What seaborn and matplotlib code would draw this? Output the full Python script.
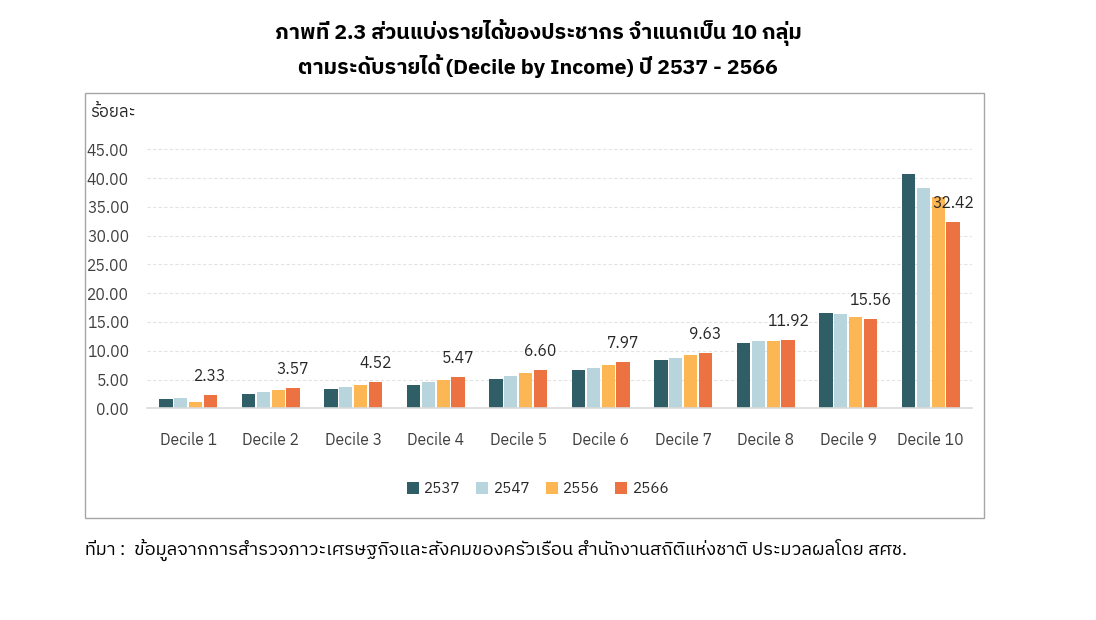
import matplotlib
matplotlib.use("Agg")
import matplotlib.pyplot as plt
import matplotlib.font_manager as fm
from matplotlib.ft2font import FT2Font
from matplotlib.patches import Rectangle
import seaborn as sns
import pandas as pd

deciles = ["Decile 1", "Decile 2", "Decile 3", "Decile 4", "Decile 5",
           "Decile 6", "Decile 7", "Decile 8", "Decile 9", "Decile 10"]
years = ["2537", "2547", "2556", "2566"]
v2537 = [1.67, 2.54, 3.35, 4.10, 5.10, 6.60, 8.44, 11.34, 16.50, 40.70]
v2547 = [1.79, 2.77, 3.65, 4.50, 5.60, 6.95, 8.79, 11.69, 16.38, 38.27]
v2556 = [1.15, 3.18, 4.10, 5.00, 6.10, 7.47, 9.20, 11.75, 15.86, 36.70]
v2566 = [2.33, 3.57, 4.52, 5.47, 6.60, 7.97, 9.63, 11.92, 15.56, 32.42]
colors = ["#2F5E66", "#B8D5DE", "#FCB654", "#EC7242"]
yticks = [0, 5, 10, 15, 20, 25, 30, 35, 40, 45]

title = "ภาพที่ 2.3 ส่วนแบ่งรายได้ของประชากร จำแนกเป็น 10 กลุ่ม\nตามระดับรายได้ (Decile by Income) ปี 2537 - 2566"
ylabel = "ร้อยละ"
source = "ที่มา :  ข้อมูลจากการสำรวจภาวะเศรษฐกิจและสังคมของครัวเรือน สำนักงานสถิติแห่งชาติ ประมวลผลโดย สศช."

# find a font covering Thai
thai_fonts = []
for f in fm.fontManager.ttflist:
    try:
        cm = FT2Font(f.fname).get_charmap()
        if 0x0E01 in cm and 0x0E2A in cm:
            thai_fonts.append(f.name)
    except Exception:
        pass
thai_fonts = sorted(set(thai_fonts))
pref = [n for n in thai_fonts if "Thai" in n and "Looped" not in n] or thai_fonts

sns.set_theme(style="white")
plt.rcParams["font.family"] = pref[:1] + ["DejaVu Sans"] if pref else ["DejaVu Sans"]

df = pd.DataFrame({
    "decile": deciles * 4,
    "year": sum([[y] * 10 for y in years], []),
    "value": v2537 + v2547 + v2556 + v2566,
})

fig = plt.figure(figsize=(10.96, 6.2), dpi=100)
ax = fig.add_axes([147 / 1096, 1 - 408.3 / 620, 825 / 1096, (408.3 - 143.5) / 620])
sns.barplot(data=df, x="decile", y="value", hue="year", palette=colors,
            width=0.72, gap=0.12, ax=ax, saturation=1, edgecolor="none")
ax.set_xlim(-0.5, 9.5)
ax.set_ylim(0, 46)
ax.set_yticks(yticks)
ax.set_yticklabels([f"{t:.2f}" for t in yticks])
ax.yaxis.grid(True, color="#E3E3E3", linestyle=(0, (3, 2)), linewidth=0.8)
ax.set_axisbelow(True)
for s in ["top", "right", "left"]:
    ax.spines[s].set_visible(False)
ax.spines["bottom"].set_color("#D9D9D9")
ax.spines["bottom"].set_linewidth(1.2)
ax.tick_params(axis="both", length=0, labelsize=11.3, colors="#404040")
ax.tick_params(axis="x", pad=17)
ax.tick_params(axis="y", pad=13)
ax.set_xlabel("")
ax.set_ylabel("")

cont = ax.containers[3]
ax.bar_label(cont, labels=[f"{v:.2f}" for v in v2566], padding=8, fontsize=11.3, color="#262626")

leg = ax.legend(loc="center", bbox_to_anchor=(538 / 1096, 1 - 489 / 620),
                bbox_transform=fig.transFigure, ncol=4, frameon=False,
                fontsize=11, handlelength=0.8, handleheight=0.8,
                columnspacing=1.0, handletextpad=0.35)

fig.text(538 / 1096, 1 - 32 / 620, title.split("\n")[0], ha="center", va="center",
         fontsize=15.4, fontweight="bold", color="black")
fig.text(538 / 1096, 1 - 66 / 620, title.split("\n")[1], ha="center", va="center",
         fontsize=15.4, fontweight="bold", color="black")
fig.text(90 / 1096, 1 - 112 / 620, ylabel, ha="left", va="center", fontsize=12, color="#262626")
fig.text(85 / 1096, 1 - 550 / 620, source, ha="left", va="center", fontsize=13.2, color="black")

fig.add_artist(Rectangle((85 / 1096, 1 - 518 / 620), (984 - 85) / 1096, (518 - 93) / 620,
                         transform=fig.transFigure, fill=False, edgecolor="#A6A6A6", linewidth=1))

fig.savefig("out.png", dpi=100)
